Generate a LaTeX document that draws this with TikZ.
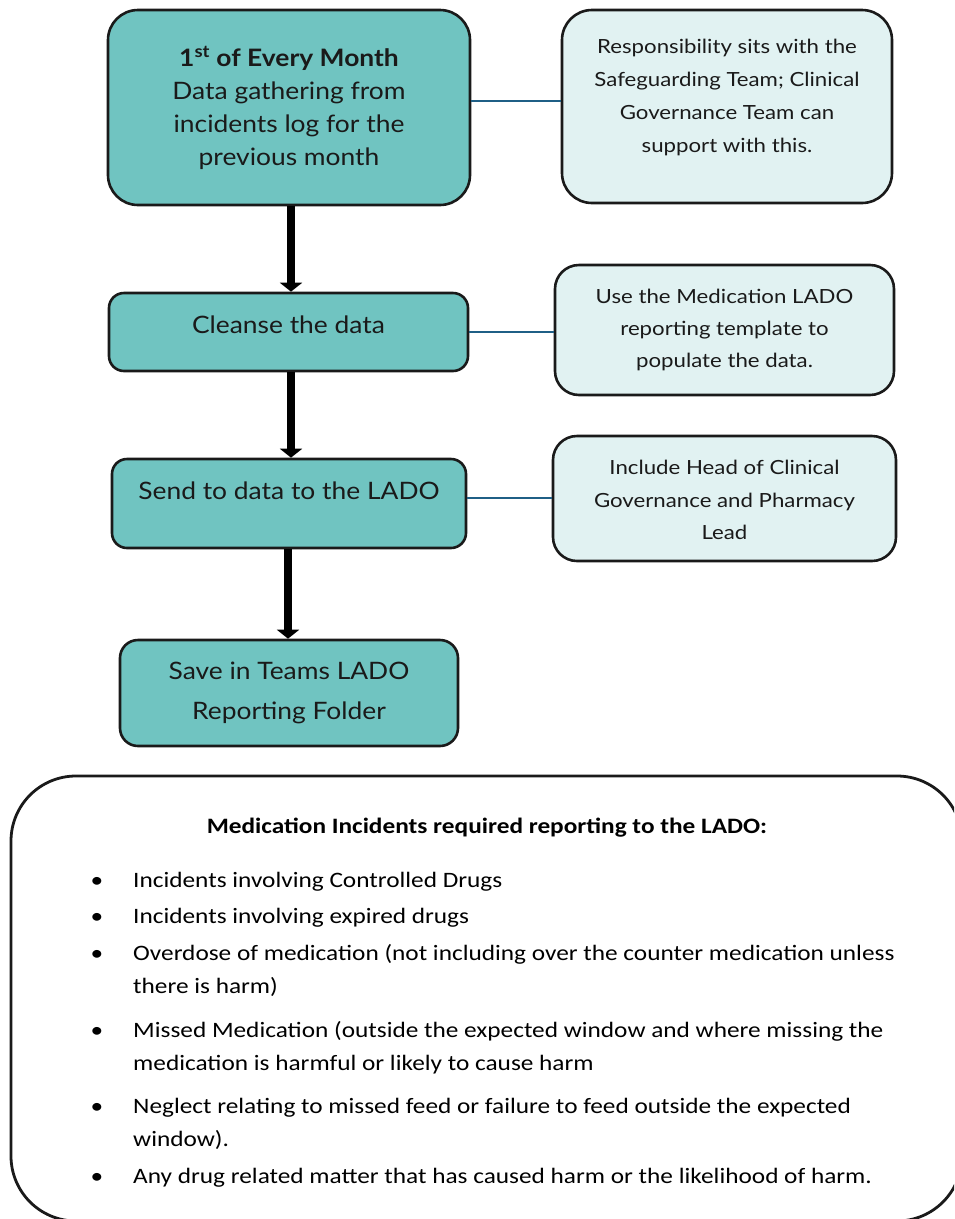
\documentclass[tikz,border=0pt]{standalone}
\usepackage{fontspec}
\setmainfont[FakeStretch=1.1]{Lato}
\newfontfamily\notefont[FakeStretch=1.14]{Lato}
\newfontfamily\calfont[FakeStretch=1.15]{Carlito}
\usetikzlibrary{arrows.meta}
\definecolor{teal1}{HTML}{70C4C1}
\definecolor{pale1}{HTML}{E1F2F2}
\definecolor{link1}{HTML}{1F5F86}
\definecolor{ink1}{HTML}{1A1A1A}
\tikzset{
  mainbox/.style={draw=ink1, line width=2.6pt, fill=teal1, rectangle, inner sep=0pt},
  notebox/.style={draw=ink1, line width=2.6pt, fill=pale1, rectangle, inner sep=0pt},
  maintext/.style={align=center, text=ink1, font=\fontsize{24}{33}\selectfont, inner sep=0pt},
  notetext/.style={align=center, text=ink1, font=\notefont\fontsize{19.5}{33}\selectfont, inner sep=0pt},
  flowarrow/.style={line width=8.5pt, black, -{Triangle[width=22pt,length=9pt]}},
  linkline/.style={draw=link1, line width=2pt},
  listtext/.style={anchor=base west, inner sep=0pt, text=black, font=\calfont\fontsize{22}{24}\selectfont},
  bullettext/.style={anchor=base, inner sep=0pt, text=black, font=\calfont\fontsize{22}{24}\selectfont}
}
\begin{document}
\begin{tikzpicture}[x=1pt,y=-1pt]
\useasboundingbox (0,0) rectangle (954,1219);
\clip (0,0) rectangle (954,1219);
\fill[white] (0,0) rectangle (954,1219);

% main boxes
\node[mainbox, rounded corners=30pt, minimum width=362pt, minimum height=195pt] (b1) at (289,107.5) {};
\node[mainbox, rounded corners=15pt, minimum width=359pt, minimum height=78pt] (b2) at (288.5,332) {};
\node[mainbox, rounded corners=15pt, minimum width=354pt, minimum height=89pt] (b3) at (289,503.5) {};
\node[mainbox, rounded corners=18pt, minimum width=338pt, minimum height=106pt] (b4) at (289,693) {};

% note boxes
\node[notebox, rounded corners=30pt, minimum width=330pt, minimum height=193pt] (r1) at (727,106.5) {};
\node[notebox, rounded corners=24pt, minimum width=339pt, minimum height=130pt] (r2) at (724.5,330) {};
\node[notebox, rounded corners=24pt, minimum width=343pt, minimum height=125pt] (r3) at (724.5,498.5) {};

% texts
\node[maintext] (t1) at (289,107.5) {\textbf{1\textsuperscript{st} of Every Month}\\Data gathering from\\incidents log for the\\previous month};
\node[maintext] (t2) at (288.5,325) {Cleanse the data};
\node[maintext] (t3) at (289,491) {Send to data to the LADO};
\node[maintext, font=\fontsize{24}{40}\selectfont] (t4) at (289,693) {Save in Teams LADO\\Reporting Folder};

\node[notetext] (n1) at (727,97.5) {Responsibility sits with the\\Safeguarding Team; Clinical\\Governance Team can\\support with this.};
\node[notetext, font=\notefont\fontsize{19.5}{32}\selectfont] (n2) at (724.5,330) {Use the Medication LADO\\reporting template to\\populate the data.};
\node[notetext, font=\notefont\fontsize{19.5}{32.5}\selectfont] (n3) at (724.5,500) {Include Head of Clinical\\Governance and Pharmacy\\Lead};

% arrows
\coordinate (a1) at (291,0);
\draw[flowarrow] (b1.south -| a1) -- (b2.north -| a1);
\draw[flowarrow] (b2.south -| a1) -- (b3.north -| a1);
\draw[flowarrow] ([xshift=-3pt]b3.south -| a1) -- ([xshift=-3pt]b4.north -| a1);

% links
\draw[linkline] ([yshift=7pt]b1.east) -- ([yshift=7pt]b1.east -| r1.west);
\draw[linkline] (b2.east) -- (b2.east -| r2.west);
\draw[linkline] ([yshift=5.5pt]b3.east) -- ([yshift=5.5pt]b3.east -| r3.west);

% bottom box
\draw[line width=2.8pt, draw=ink1, rounded corners=65pt] (11,776) rectangle (962,1221);
\node[anchor=base, inner sep=0pt, font=\calfont\bfseries\fontsize{22}{24}\selectfont] (ttl) at (487,833) {Medication Incidents required reporting to the LADO:};

\node[bullettext] (k1) at (97,887) {•};
\node[listtext] (l1) at (133,887) {Incidents involving Controlled Drugs};
\node[bullettext] (k2) at (97,923) {•};
\node[listtext] (l2) at (133,923) {Incidents involving expired drugs};
\node[bullettext] (k3) at (97,960) {•};
\node[listtext] (l3) at (133,960) {Overdose of medication (not including over the counter medication unless};
\node[listtext] (l3b) at (133,993) {there is harm)};
\node[bullettext] (k4) at (97,1037) {•};
\node[listtext] (l4) at (133,1037) {Missed Medication (outside the expected window and where missing the};
\node[listtext] (l4b) at (133,1070) {medication is harmful or likely to cause harm};
\node[bullettext] (k5) at (97,1113) {•};
\node[listtext] (l5) at (133,1113) {Neglect relating to missed feed or failure to feed outside the expected};
\node[listtext] (l5b) at (133,1146) {window).};
\node[bullettext] (k6) at (97,1183) {•};
\node[listtext] (l6) at (133,1183) {Any drug related matter that has caused harm or the likelihood of harm.};
\end{tikzpicture}
\end{document}
